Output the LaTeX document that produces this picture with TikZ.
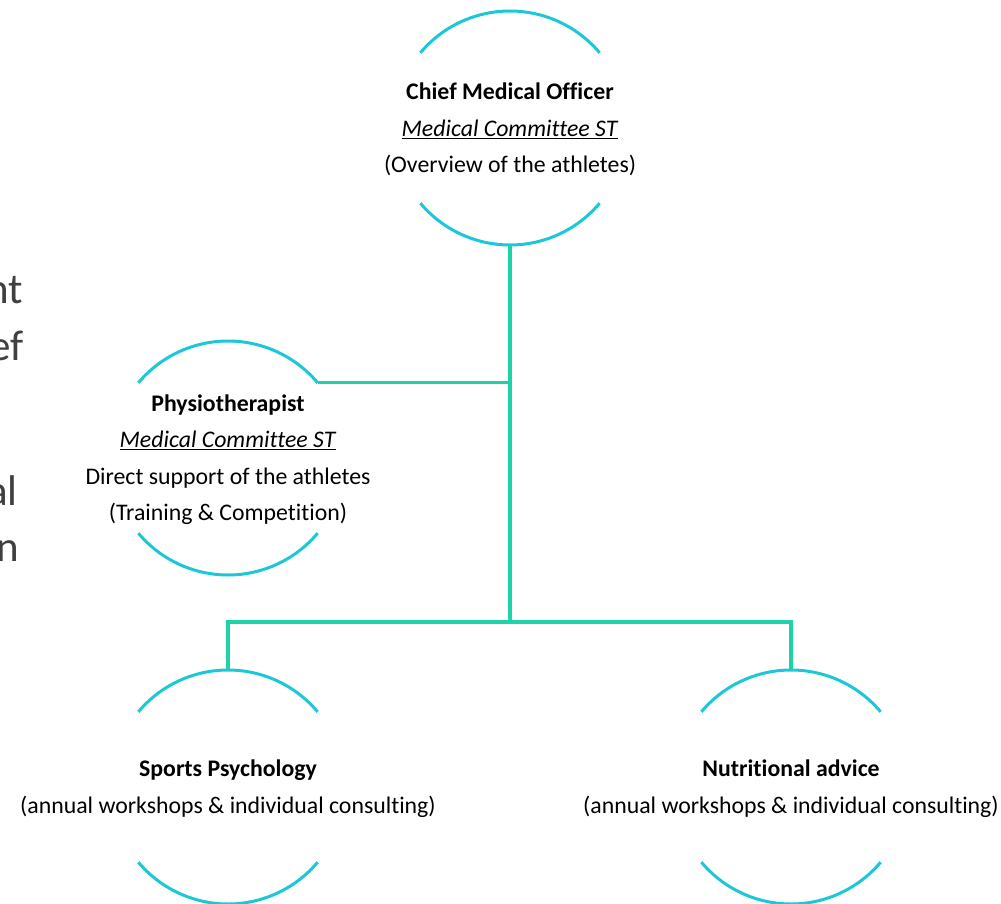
\documentclass[tikz,border=0pt]{standalone}
\usepackage{fontspec}
\setmainfont{Carlito}[Ligatures={NoCommon,NoRequired,NoContextual},RawFeature={-liga;-clig;-calt;-dlig}]
\definecolor{arcc}{HTML}{1CC8D8}
\definecolor{connc}{HTML}{1DD3A7}
\definecolor{fragc}{HTML}{404040}
\begin{document}
\begin{tikzpicture}[x=1pt,y=-1pt,
  ring/.style={circle,minimum size=234pt,inner sep=0pt,outer sep=0pt},
  txt/.style={align=center,inner sep=0pt,font=\fontsize{23.8}{36.5}\selectfont},
  frag/.style={anchor=base east,inner sep=0pt,text=fragc,font=\fontsize{43}{50}\selectfont},
  arcline/.style={draw=arcc,line width=3pt},
  conn/.style={draw=connc,line width=3.2pt}]
\useasboundingbox (0,0) rectangle (1001,904);
% fragments of cut text at the left edge
\node[frag] (f1) at (23,303) {nt};
\node[frag] (f2) at (24,360) {ef};
\node[frag] (f3) at (18,505) {al};
\node[frag] (f4) at (19,561) {n};
% circles
\node[ring] (cmo) at (510,128) {};
\node[ring] (phys) at (228,458) {};
\node[ring] (sport) at (228,787) {};
\node[ring] (nut) at (791,787) {};
\foreach \n in {cmo,phys,sport,nut}{
  \draw[arcline] (\n.40) arc[start angle=40,end angle=140,radius=117pt];
  \draw[arcline] (\n.220) arc[start angle=220,end angle=320,radius=117pt];
}
% texts
\node[txt] (cmoT) at ([yshift=-1.5pt]cmo) {\textbf{Chief Medical Officer}\\\underline{\textit{Medical Committee ST}}\\(Overview of the athletes)};
\node[txt] (physT) at ([yshift=-1.5pt]phys) {\textbf{Physiotherapist}\\\underline{\textit{Medical Committee ST}}\\Direct support of the athletes\\(Training \& Competition)};
\node[txt] (sportT) at ([yshift=-1.5pt]sport) {\textbf{Sports Psychology}\\(annual workshops \& individual consulting)};
\node[txt] (nutT) at ([yshift=-1.5pt]nut) {\textbf{Nutritional advice}\\(annual workshops \& individual consulting)};
% connectors
\coordinate (j1) at (cmo.south |- phys.40);
\coordinate (j2) at (510,622);
\draw[conn] (cmo.south) -- (j2);
\draw[conn] (phys.40) -- (j1);
\draw[conn] (sport.north) -- (sport.north |- j2) -- (nut.north |- j2) -- (nut.north);
\end{tikzpicture}
\end{document}
